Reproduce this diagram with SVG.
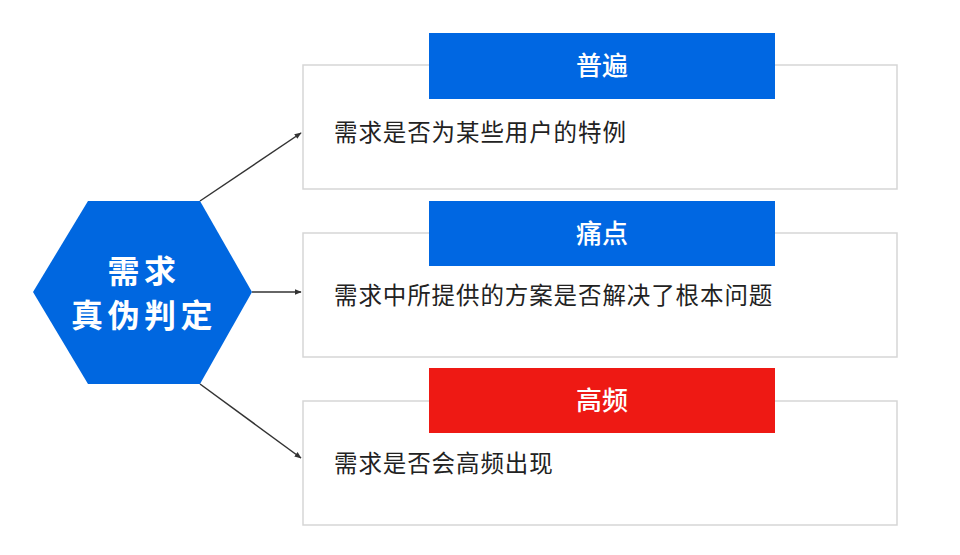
<svg xmlns="http://www.w3.org/2000/svg" width="960" height="555" viewBox="0 0 960 555">
<style>
.box{fill:#fff;stroke:#d6d6d6;stroke-width:1.5}
.hdr-blue{fill:#0067e2}
.hdr-red{fill:#ee1914}
.hdr-t{font-family:"Noto Sans CJK SC","Noto Sans",sans-serif;font-size:26px;font-weight:500;fill:#fff;text-anchor:middle}
.body-t{font-family:"Noto Sans CJK SC","Noto Sans",sans-serif;font-size:23.5px;fill:#222;letter-spacing:0.9px}
.hex-t{font-family:"Noto Sans CJK SC","Noto Sans",sans-serif;font-size:32px;font-weight:bold;fill:#fff;text-anchor:middle;letter-spacing:4.5px}
.conn{stroke:#333;stroke-width:1.5;fill:none}
</style>
<defs>
<marker id="arr" viewBox="0 0 10 10" refX="9" refY="5" markerWidth="7" markerHeight="7" orient="auto" markerUnits="userSpaceOnUse">
<path d="M0,1 L10,5 L0,9 z" fill="#333"/>
</marker>
</defs>
<rect width="960" height="555" fill="#fff"/>
<g id="connectors">
<line class="conn" x1="200" y1="201" x2="301" y2="133" marker-end="url(#arr)"/>
<line class="conn" x1="252" y1="292" x2="301" y2="292" marker-end="url(#arr)"/>
<line class="conn" x1="200" y1="384" x2="301" y2="458" marker-end="url(#arr)"/>
</g>
<g id="hex">
<polygon points="88,201 200,201 252,292 200,384 88,384 33,292" fill="#0067e0"/>
<text class="hex-t" x="144" y="283">需求</text>
<text class="hex-t" x="144" y="327">真伪判定</text>
</g>
<g id="node-putong">
<rect class="box" x="303" y="65" width="594" height="124"/>
<rect class="hdr-blue" x="429" y="33" width="346" height="66"/>
<text class="hdr-t" x="602" y="75">普遍</text>
<text class="body-t" x="334" y="141">需求是否为某些用户的特例</text>
</g>
<g id="node-tongdian">
<rect class="box" x="303" y="233" width="594" height="124"/>
<rect class="hdr-blue" x="429" y="201" width="346" height="65"/>
<text class="hdr-t" x="602" y="243">痛点</text>
<text class="body-t" x="334" y="304">需求中所提供的方案是否解决了根本问题</text>
</g>
<g id="node-gaopin">
<rect class="box" x="303" y="401" width="594" height="124"/>
<rect class="hdr-red" x="429" y="368" width="346" height="65"/>
<text class="hdr-t" x="602" y="410">高频</text>
<text class="body-t" x="334" y="472">需求是否会高频出现</text>
</g>
</svg>
